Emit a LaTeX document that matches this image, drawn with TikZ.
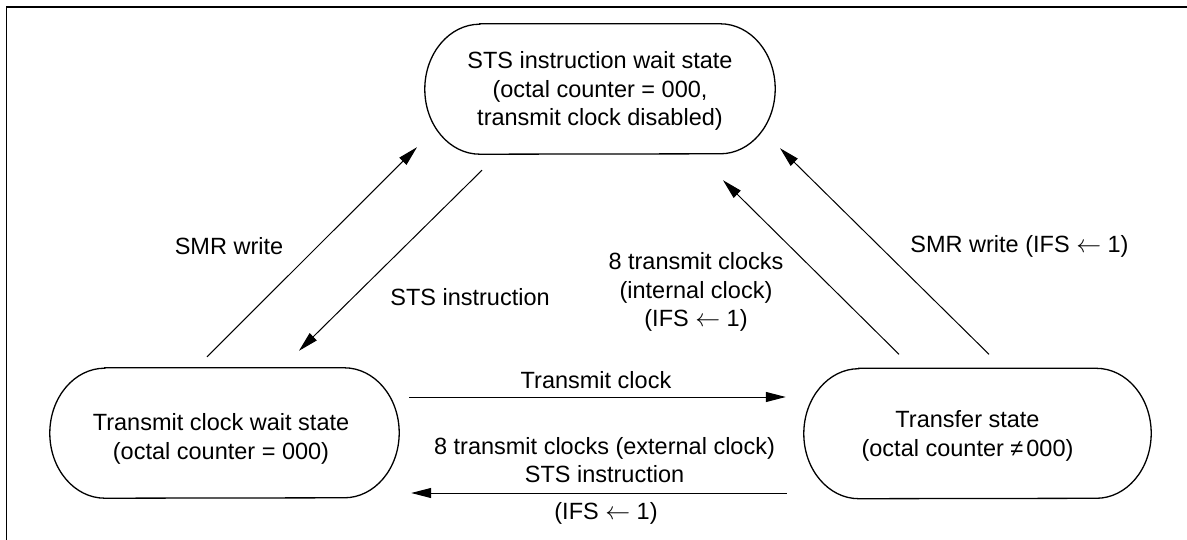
\documentclass[tikz,border=0pt]{standalone}
\usepackage{fontspec}
\setmainfont{Liberation Sans}
\usetikzlibrary{arrows.meta,calc}
\newcommand\stadiumoutline[1]{%
  \draw[stateline] ([xshift=55pt]#1.north west) -- ([xshift=-55pt]#1.north east)
    arc[start angle=90,end angle=-90,x radius=55pt,y radius=65pt]
    -- ([xshift=55pt]#1.south west)
    arc[start angle=270,end angle=90,x radius=55pt,y radius=65pt] -- cycle;}
\newcommand\ifsarrow{(IFS $\leftarrow$ 1)}
\begin{document}
\begin{tikzpicture}[x=1pt,y=-1pt,
  lbl/.style={font=\fontsize{23.5}{28.5}\selectfont, inner sep=0pt, align=center},
  statebox/.style={inner sep=0pt, minimum height=130pt},
  stateline/.style={line width=1.3pt},
  conn/.style={line width=1pt, -{Triangle[length=20pt,width=10pt]}},
  frameline/.style={line width=1.6pt}]
\useasboundingbox (0,0) rectangle (1187,540);
\draw[frameline] (6.5,540) -- (6.5,7) -- (1187,7);

% states
\node[statebox, minimum width=350pt] (T) at (600,89) {};
\node[statebox, minimum width=349pt] (L) at (224.5,433) {};
\node[statebox, minimum width=347pt] (R) at (977.5,433.5) {};
\stadiumoutline{T}
\stadiumoutline{L}
\stadiumoutline{R}
\node[lbl] (Tt) at (600,91) {STS instruction wait state\\(octal counter = 000,\\transmit clock disabled)};
\node[lbl] (Lt) at (221,439) {Transmit clock wait state\\(octal counter = 000)};
\node[lbl] (Rt) at (967.5,436) {Transfer state\\(octal counter ≠\kern3pt 000)};

% connectors
\draw[conn] ([shift={(-17.5,-11)}]L.north) -- ([shift={(-183,-7)}]T.south);
\draw[conn] ([shift={(-118,16)}]T.south) -- ([shift={(74.5,-17)}]L.north);
\draw[conn] ([shift={(-78.5,-14)}]R.north) -- ([shift={(123,26)}]T.south);
\draw[conn] ([shift={(11.5,-14)}]R.north) -- ([shift={(180,-6)}]T.south);
\draw[conn] ([shift={(10,-36)}]L.east) -- ([shift={(-18,-36.5)}]R.west);
\draw[conn] ([shift={(-17,59.5)}]R.west) -- ([shift={(12,60)}]L.east);

% labels
\node[lbl] (l1) at (229,246) {SMR write};
\node[lbl] (l2) at (470,297) {STS instruction};
\node[lbl] (l3) at (696,292) {8 transmit clocks\\(internal clock)\\\ifsarrow};
\node[lbl] (l4) at (1019.5,246) {SMR write \ifsarrow};
\node[lbl] (l5) at (596,380) {Transmit clock};
\node[lbl] (l6) at (604.5,460) {8 transmit clocks (external clock)\\STS instruction};
\node[lbl] (l7) at (606,513) {\ifsarrow};
\end{tikzpicture}
\end{document}
